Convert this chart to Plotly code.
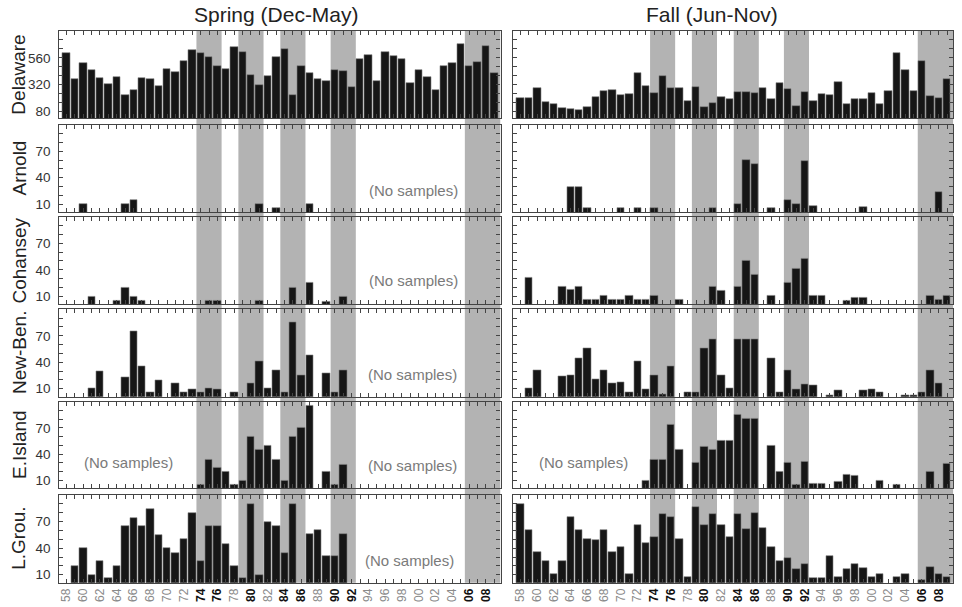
import plotly.graph_objects as go

N = None
years = list(range(1958, 2010))
sites = ["Delaware", "Arnold", "Cohansey", "New-Ben.", "E.Island", "L.Grou."]
col_titles = ["Spring (Dec-May)", "Fall (Jun-Nov)"]
bold_years = [1974, 1976, 1980, 1984, 1986, 1990, 1992, 2006, 2008]
bands = [(1973.5, 1976.5), (1978.5, 1981.5), (1983.5, 1986.5), (1989.5, 1992.5), (2005.5, 2009.75)]

delaware_spring = [605, 371, 515, 455, 377, 329, 389, 230, 275, 383,
                   371, 311, 464, 434, 536, 629, 605, 569, 485, 464,
                   656, 614, 407, 317, 398, 566, 638, 230, 491, 425,
                   371, 353, 449, 443, 302, 554, 587, 353, 614, 581,
                   554, 332, 455, 389, 275, 491, 515, 683, 485, 524,
                   665, 425]
delaware_fall = [197, 197, 290, 164, 149, 113, 101, 92, 125, 209,
                 260, 272, 230, 236, 425, 311, 242, 395, 290, 290,
                 179, 296, 125, 161, 209, 191, 257, 257, 242, 290,
                 191, 338, 278, 134, 251, 179, 236, 230, 344, 149,
                 191, 191, 245, 149, 266, 605, 449, 266, 530, 215,
                 197, 371]
arnold_spring = [N, N, 10, N, N, N, N, 10, 15, N,
                 N, N, N, N, N, N, N, N, N, N,
                 N, N, N, 10, N, 5, N, N, N, 10,
                 N, N, N, N, N, N, N, N, N, N,
                 N, N, N, N, N, N, N, N, N, N,
                 N, N]
arnold_fall = [N, N, N, N, N, N, 30, 30, 5, N,
               N, N, 5, N, 5, N, 5, N, N, N,
               N, N, N, 5, N, N, 10, 60, 56, N,
               5, N, 15, 10, 59, 8, N, N, N, N,
               N, 7, N, N, N, N, N, N, N, N,
               24, N]
cohansey_spring = [N, N, N, 10, N, N, 5, 20, 10, 5,
                   N, N, N, N, N, N, N, 5, 5, N,
                   N, N, N, 5, N, N, N, 20, N, 25,
                   N, 4, N, 10, N, N, N, N, N, N,
                   N, N, N, N, N, N, N, N, N, N,
                   N, N]
cohansey_fall = [N, 31, N, N, N, 21, 18, 21, 6, 6,
                 11, 6, 6, 11, 6, 6, 11, N, N, 6,
                 N, N, N, 21, 16, N, 21, 50, 35, N,
                 11, N, 25, 41, 53, 11, 11, N, N, 5,
                 8, 8, N, N, N, N, N, N, N, 11,
                 6, 11]
newben_spring = [N, N, N, 10, 30, N, N, 23, 75, 35,
                 6, 20, N, 16, 6, 9, 6, 10, 9, N,
                 6, N, 16, 41, 10, 31, 6, 85, 25, 48,
                 N, 27, 6, 31, N, N, N, N, N, N,
                 N, N, N, N, N, N, N, N, N, N,
                 N, N]
newben_fall = [N, 10, 31, N, N, 24, 25, 45, 56, 21,
               31, 16, 17, 6, 41, 9, 25, 4, 35, N,
               6, 6, 56, 66, 25, 10, 66, 66, 66, N,
               45, 6, 31, 9, 15, 14, N, 3, 8, N,
               N, 8, 9, 6, N, N, 3, 3, 6, 31,
               16, N]
eisland_spring = [N, N, N, N, N, N, N, N, N, N,
                  N, N, N, N, N, N, 5, 34, 25, 20,
                  5, 10, 60, 45, 50, 34, 10, 60, 70, 95,
                  N, 20, 5, 28, N, N, N, N, N, N,
                  N, N, N, N, N, N, N, N, N, N,
                  N, N]
eisland_fall = [N, N, N, N, N, N, N, N, N, N,
                N, N, N, N, N, 10, 34, 34, 74, 45,
                N, 30, 48, 45, 55, 55, 85, 80, 80, N,
                50, 20, 30, 5, 31, 6, 6, N, 8, 16,
                15, N, N, 10, N, 5, N, N, N, 20,
                N, 29]
lgrou_spring = [N, 20, 40, 10, 25, 6, 20, 65, 74, 65,
                84, 55, 40, 35, 50, 80, 25, 65, 65, 45,
                20, 6, 90, 10, 70, 65, 35, 90, N, 56,
                60, 31, 31, 56, N, N, N, N, N, N,
                N, N, N, N, N, N, N, N, N, N,
                N, N]
lgrou_fall = [90, 60, 36, 26, 11, 26, 75, 60, 50, 49,
              60, 36, 41, 11, 66, 46, 53, 78, 75, 50,
              7, 87, 66, 78, 66, 53, 78, 62, 80, 63,
              41, 26, 29, 16, 22, 6, 6, 31, 8, 16,
              22, 18, 7, 11, N, 7, 11, N, 4, 19,
              11, 7]

series = [
    [delaware_spring, delaware_fall],
    [arnold_spring, arnold_fall],
    [cohansey_spring, cohansey_fall],
    [newben_spring, newben_fall],
    [eisland_spring, eisland_fall],
    [lgrou_spring, lgrou_fall],
]

del_ticks = [80, 160, 240, 320, 400, 480, 560, 640, 720]
del_labels = ["80", "", "", "320", "", "", "560", "", ""]
low_ticks = [10, 20, 30, 40, 50, 60, 70, 80, 90]
low_labels = ["10", "", "", "40", "", "", "70", "", ""]

no_samples = [  # (row, col, x px, y px)
    (1, 0, 413, 190), (2, 0, 413, 280), (3, 0, 412, 374),
    (4, 0, 128, 462), (4, 0, 412, 465), (5, 0, 409, 560), (4, 1, 583, 462),
]

W, H = 962, 607
col_x = [(59.3, 500.5), (513.3, 953.3)]
row_y = [(31, 118.3), (125, 212), (216.7, 304.3), (309.3, 396.7), (401.7, 488.3), (495, 582.7)]
XR = [1957.15, 2009.75]
FONT = "Arial, Liberation Sans, sans-serif"
FRAME = "#444444"


def xtext(y):
    if y % 2:
        return ""
    s = f"{y % 100:02d}"
    if y in bold_years:
        return f'<b><span style="color:#111111">{s}</span></b>'
    return s


fig = go.Figure()
layout = {}
for r in range(6):
    for c in range(2):
        k = r * 2 + c + 1
        xa = "x" if k == 1 else f"x{k}"
        ya = "y" if k == 1 else f"y{k}"
        fig.add_trace(go.Bar(
            x=years, y=series[r][c], xaxis=xa, yaxis=ya, width=0.88,
            marker=dict(color="#161616", line=dict(color="#808080", width=0.6)),
            showlegend=False, hoverinfo="x+y"))
        x0, x1 = col_x[c]
        t, b = row_y[r]
        layout[f"xaxis{k}"] = dict(
            domain=[x0 / W, x1 / W], anchor=ya, range=XR,
            tickmode="array", tickvals=years, ticktext=[xtext(y) for y in years],
            ticks="inside", ticklen=4, tickwidth=1, tickcolor=FRAME,
            showline=True, linecolor=FRAME, linewidth=1.3, mirror="ticks",
            showgrid=False, zeroline=False, tickangle=-90,
            showticklabels=(r == 5),
            tickfont=dict(family=FONT, size=12, color="#8a8a8a"),
        )
        if r == 0:
            tv, tt, yr = del_ticks, del_labels, [20, 800]
        else:
            tv, tt, yr = low_ticks, low_labels, [1, 100]
        layout[f"yaxis{k}"] = dict(
            domain=[1 - b / H, 1 - t / H], anchor=xa, range=yr,
            tickmode="array", tickvals=tv, ticktext=tt,
            ticks="inside", ticklen=4, tickwidth=1, tickcolor=FRAME,
            showline=True, linecolor=FRAME, linewidth=1.3, mirror="ticks",
            showgrid=False, zeroline=False, showticklabels=(c == 0),
            ticklabelstandoff=5,
            tickfont=dict(family=FONT, size=13.5, color="#333333"),
        )

shapes = []
for c in range(2):
    xref = "x" if c == 0 else "x2"
    for (a, bnd) in bands:
        shapes.append(dict(type="rect", xref=xref, yref="paper",
                           x0=a, x1=min(bnd, XR[1]),
                           y0=1 - row_y[5][1] / H, y1=1 - row_y[0][0] / H,
                           fillcolor="#b3b3b3", line=dict(width=0), layer="below"))

ann = []
for c, px in enumerate([276, 712]):
    ann.append(dict(text=col_titles[c], x=px / W, y=1 - 14.5 / H, xref="paper", yref="paper",
                    xanchor="center", yanchor="middle", showarrow=False,
                    font=dict(family=FONT, size=21, color="#222222")))
for r, name in enumerate(sites):
    t, b = row_y[r]
    ann.append(dict(text=name, x=19 / W, y=1 - (t + b) / 2 / H, xref="paper", yref="paper",
                    xanchor="center", yanchor="middle", showarrow=False, textangle=-90,
                    font=dict(family=FONT, size=19, color="#222222")))
for (r, c, px, py) in no_samples:
    ann.append(dict(text="(No samples)", x=px / W, y=1 - py / H, xref="paper", yref="paper",
                    xanchor="center", yanchor="middle", showarrow=False,
                    font=dict(family=FONT, size=15, color="#7a7a7a")))

fig.update_layout(
    width=W, height=H, margin=dict(l=0, r=0, t=0, b=0),
    paper_bgcolor="white", plot_bgcolor="rgba(0,0,0,0)",
    bargap=0, shapes=shapes, annotations=ann, **layout)

fig.write_html("out.html", config={"displayModeBar": False},
               post_script="document.body.style.margin='0';document.body.style.overflow='hidden';")
